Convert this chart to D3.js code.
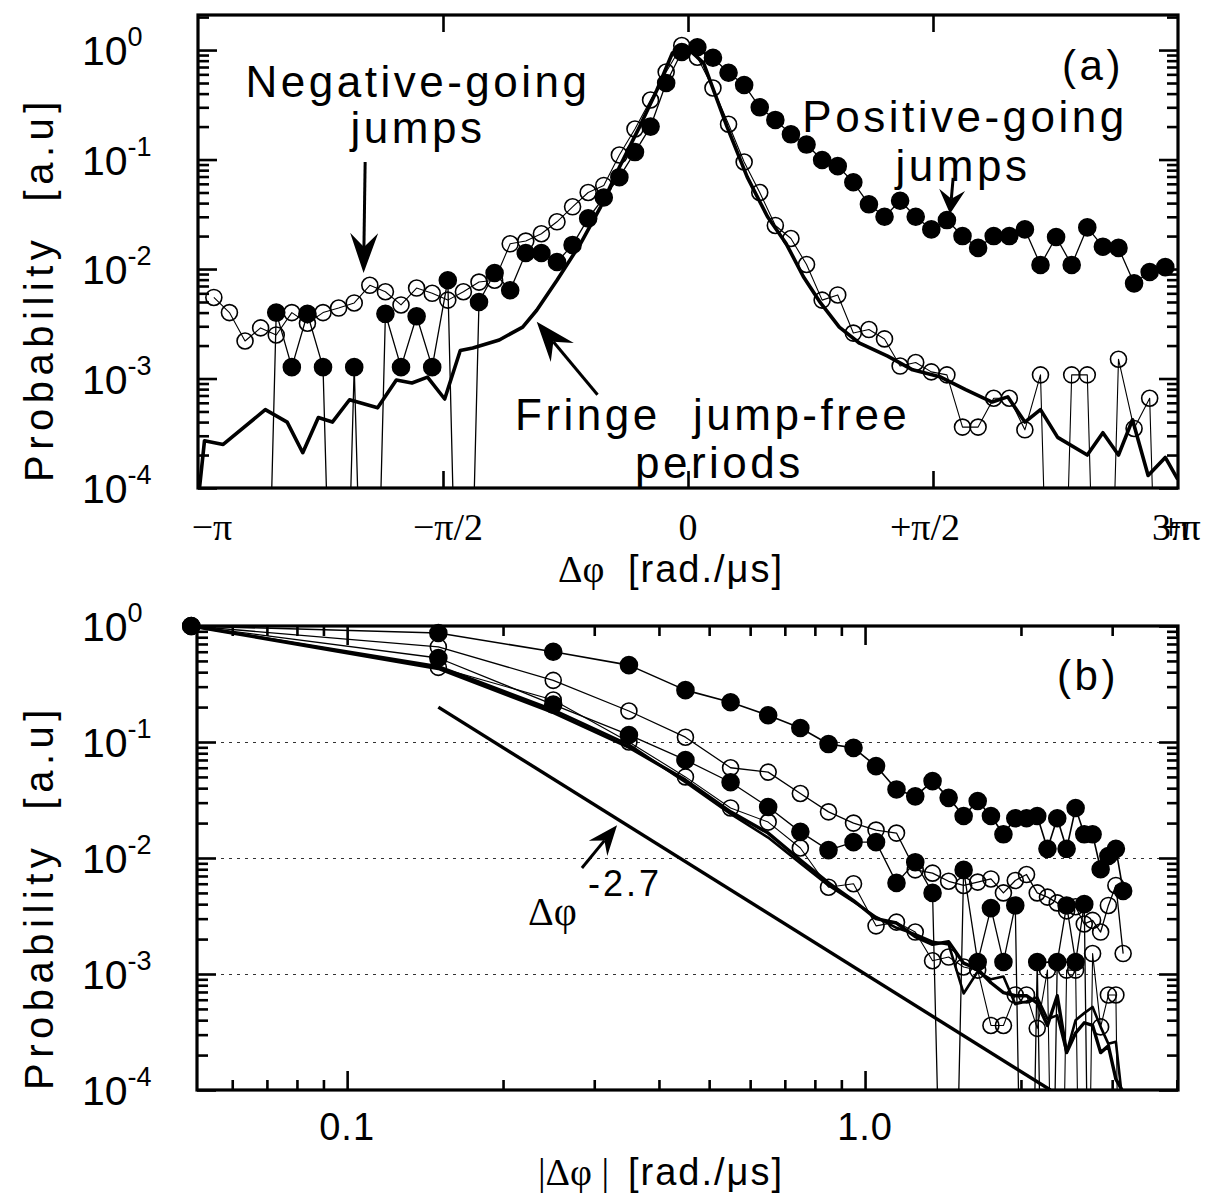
<!DOCTYPE html>
<html><head><meta charset="utf-8">
<script src="https://cdn.jsdelivr.net/npm/d3@7"></script>
<style>body{margin:0;background:#fff}</style>
</head><body>
<svg id="chart" width="1209" height="1196"></svg>
<script>
// ---------------- DATA ----------------
// Panel (a): phase-increment bins [rad/us]
const binsA = [-3.04,-2.94,-2.84,-2.74,-2.64,-2.54,-2.44,-2.34,-2.24,-2.14,-2.04,-1.94,-1.84,-1.74,-1.64,-1.54,-1.44,-1.34,-1.24,-1.14,-1.04,-0.94,-0.84,-0.74,-0.64,-0.54,-0.44,-0.34,-0.24,-0.14,-0.04,
  0.06,0.16,0.26,0.36,0.46,0.56,0.66,0.76,0.86,0.96,1.06,1.16,1.26,1.36,1.46,1.56,1.66,1.76,1.86,1.96,2.06,2.16,2.26,2.36,2.46,2.56,2.66,2.76,2.86,2.96,3.06];
// open circles
const openA = [5.5e-3,4.0e-3,2.2e-3,2.9e-3,2.5e-3,4.0e-3,3.2e-3,4.0e-3,4.4e-3,4.9e-3,7.1e-3,6.2e-3,4.7e-3,6.7e-3,6.0e-3,5.2e-3,6.2e-3,7.6e-3,7.9e-3,1.7e-2,1.8e-2,2.1e-2,2.7e-2,3.7e-2,5.0e-2,5.8e-2,0.11,0.19,0.35,0.63,1.1,
  0.86,0.45,0.21,0.095,5.0e-2,2.5e-2,1.9e-2,1.1e-2,5.2e-3,5.8e-3,2.6e-3,2.8e-3,2.3e-3,1.3e-3,1.4e-3,1.15e-3,1.08e-3,3.6e-4,3.6e-4,6.6e-4,6.6e-4,3.4e-4,1.08e-3,0,1.08e-3,1.08e-3,0,1.5e-3,3.5e-4,6.6e-4,0];
// filled circles
const filledA = [0,0,0,0,4.0e-3,1.27e-3,3.9e-3,1.27e-3,0,1.27e-3,0,3.9e-3,1.27e-3,3.7e-3,1.27e-3,7.9e-3,0,5.0e-3,9.2e-3,6.4e-3,1.4e-2,1.4e-2,1.16e-2,1.66e-2,2.9e-2,4.5e-2,6.9e-2,0.117,0.20,0.50,0.96,
  1.06,0.85,0.62,0.48,0.30,0.23,0.17,0.137,0.099,0.087,0.062,0.039,0.030,0.042,0.030,0.023,0.028,0.020,0.0156,0.020,0.020,0.023,0.0109,0.0196,0.0109,0.024,0.016,0.0156,0.0074,0.0094,0.0104];
// thick line: fringe jump-free periods
const fringeAX = [-3.14,-3.10,-2.98,-2.71,-2.57,-2.47,-2.37,-2.28,-2.17,-1.99,-1.87,-1.77,-1.67,-1.56,-1.46,-1.38,-1.21,-1.06,-0.97,-0.84,-0.69,-0.56,-0.44,-0.31,-0.20,-0.10,-0.02,
  0.10,0.25,0.38,0.51,0.63,0.74,0.85,0.97,1.10,1.28,1.44,1.62,1.78,1.95,2.05,2.16,2.26,2.37,2.56,2.66,2.76,2.85,2.95,3.06,3.14];
const fringeAP = [7.8e-5,2.7e-4,2.5e-4,5.2e-4,4.0e-4,2.1e-4,4.4e-4,4.0e-4,6.4e-4,5.4e-4,9.7e-4,9.1e-4,1.03e-3,6.5e-4,1.8e-3,1.9e-3,2.25e-3,2.95e-3,4.2e-3,7.9e-3,1.7e-2,3.7e-2,8.5e-2,0.20,0.43,0.94,1.1,
  0.76,0.20,6.9e-2,3.0e-2,1.7e-2,8.5e-3,4.9e-3,2.95e-3,2.1e-3,1.6e-3,1.2e-3,1.03e-3,7.9e-4,6.1e-4,6.8e-4,4.0e-4,5.2e-4,2.9e-4,2.0e-4,3.2e-4,2.0e-4,4.2e-4,1.3e-4,1.9e-4,1.2e-4];
const tickLabelsA = ["\u2212\u03c0", "\u2212\u03c0/2", "0", "+\u03c0/2"];
const tickValuesA = [-Math.PI, -Math.PI/2, 0, Math.PI/2];

// Panel (b): |delta phi| bins
const binsB = [0.05,0.15,0.25,0.35,0.45,0.55,0.65,0.75,0.85,0.95,1.05,1.15,1.25,1.35,1.45,1.55,1.65,1.75,1.85,1.95,2.05,2.15,2.25,2.35,2.45,2.55,2.65,2.75,2.85,2.95,3.05,3.15];
const filledTopB = [1.0,0.87,0.60,0.46,0.28,0.22,0.17,0.132,0.096,0.089,0.062,0.039,0.034,0.046,0.033,0.023,0.031,0.023,0.016,0.022,0.022,0.023,0.012,0.022,0.012,0.027,0.016,0.016,0.008,0.0104,0.012,0.0052];
const openTopB = [1.0,0.66,0.34,0.185,0.11,0.060,0.055,0.036,0.025,0.020,0.0174,0.0164,0.0079,0.0074,0.0063,0.0058,0.0062,0.0066,0.0050,0.0064,0.0072,0.0050,0.0046,0.0041,0.0035,0.0038,0.0027,0.0029,0.0023,0.0039,0.0058,0.0015];
const filledLowB = [1.0,0.53,0.21,0.115,0.070,0.045,0.0275,0.0168,0.0117,0.0137,0.0137,0.0061,0.0092,0.0050,0,0.0079,0.00127,0.0037,0.00127,0.0039,0,0.00127,0,0.00127,0.0039,0.00127,0.0040,0,0,0,0,0];
const openLowB = [1.0,0.44,0.23,0.10,0.05,0.027,0.0204,0.0122,0.0056,0.006,0.0026,0.0028,0.0023,0.0013,0.0014,0.00115,0.00108,3.6e-4,3.6e-4,6.6e-4,6.6e-4,3.4e-4,1.08e-3,0,1.08e-3,1.08e-3,0,1.5e-3,3.5e-4,6.6e-4,6.6e-4,0];
const fringePosB = [1.0,0.43,0.18,0.09,0.047,0.025,0.0164,0.0096,0.0061,0.0043,0.0030,0.00275,0.0021,0.0018,0.0019,0.00124,0.0011,8.4e-4,6.9e-4,6.5e-4,6.5e-4,5.6e-4,3.6e-4,6.5e-4,2.1e-4,3.1e-4,3.8e-4,3.6e-4,2.1e-4,2.4e-4,1.24e-4,9.6e-5];
const fringeNegB = [1.0,0.45,0.19,0.095,0.045,0.024,0.0150,0.0090,0.0058,0.0042,0.0031,0.0025,0.0022,0.0019,0.0018,6.8e-4,1.05e-3,9.0e-4,9.5e-4,5.5e-4,5.8e-4,6.3e-4,4.1e-4,4.4e-4,2.1e-4,4.0e-4,4.6e-4,5.2e-4,3.5e-4,2.5e-4,2.6e-4,7e-5];
const powerLawX = [0.15, 2.28];
const powerLawP = [0.20, 1e-4];
const tickLabelsB = ["0.1", "1.0"];
const decadeExps = [0, -1, -2, -3, -4];

// ---------------- DRAWING ----------------
const svg = d3.select('#chart');
const SANS = "'Liberation Sans', Arial, Helvetica, sans-serif";
const SERIF = "'Liberation Serif', 'Times New Roman', serif";
const ZERO_FLOOR = 1e-8;

function minorLogTicks(lo, hi) {
  const out = [];
  for (let e = Math.floor(Math.log10(lo)); e <= Math.ceil(Math.log10(hi)); e++) {
    for (let m = 2; m <= 9; m++) { const v = m * Math.pow(10, e); if (v > lo && v < hi) out.push(v); }
  }
  return out;
}

function addClip(id, x, y) {
  const r = x.range(), d = y.range();
  svg.append('clipPath').attr('id', id).append('rect')
    .attr('x', r[0]).attr('y', Math.min(d[0], d[1])).attr('width', r[1]-r[0]).attr('height', Math.abs(d[0]-d[1]));
}

function drawSeries(g, xs, ys, x, y, o) {
  const pts = xs.map((v, i) => [v, ys[i]]);
  const line = d3.line().x(d => x(d[0])).y(d => y(Math.max(d[1], ZERO_FLOOR)));
  g.append('path').attr('d', line(pts)).attr('fill', 'none').attr('stroke', '#000')
    .attr('stroke-width', o.lw).attr('stroke-linejoin', 'round').attr('clip-path', `url(#${o.clip})`);
  if (o.marker) {
    g.selectAll(null).data(pts.filter(d => d[1] > 0)).enter().append('circle')
      .attr('cx', d => x(d[0])).attr('cy', d => y(d[1])).attr('r', o.marker === 'filled' ? 8.5 : 8)
      .attr('fill', o.marker === 'filled' ? '#000' : 'none')
      .attr('stroke', '#000').attr('stroke-width', 1.6);
  }
}

function arrow(x1, y1, x2, y2, len, hw, notch) {
  const dx = x2 - x1, dy = y2 - y1, L = Math.hypot(dx, dy), ux = dx / L, uy = dy / L, nx = -uy, ny = ux;
  const bx = x2 - ux*len, by = y2 - uy*len, qx = x2 - ux*notch, qy = y2 - uy*notch;
  svg.append('line').attr('x1', x1).attr('y1', y1).attr('x2', qx).attr('y2', qy).attr('stroke', '#000').attr('stroke-width', 3);
  svg.append('path').attr('d', `M${x2},${y2}L${bx+nx*hw},${by+ny*hw}L${qx},${qy}L${bx-nx*hw},${by-ny*hw}Z`).attr('fill', '#000');
}

function text(x, y, s, o = {}) {
  return svg.append('text').attr('x', x).attr('y', y).text(s)
    .attr('font-family', o.family || SANS).attr('font-size', o.size || 44)
    .attr('letter-spacing', o.ls !== undefined ? o.ls : 3.5)
    .attr('text-anchor', o.anchor || 'start').attr('fill', '#000')
    .style('white-space', 'pre');
}

function yAxes(y, xl, xr) {
  const lo = y.domain()[0], hi = y.domain()[1];
  const minors = minorLogTicks(lo, hi);
  const majors = decadeExps.map(e => Math.pow(10, e)).filter(v => v >= lo && v <= hi);
  const gl = svg.append('g').attr('transform', `translate(${xl},0)`);
  gl.append('g').call(d3.axisLeft(y).tickValues(minors).tickSize(-11).tickFormat(''));
  gl.append('g').call(d3.axisLeft(y).tickValues(majors).tickSize(-19).tickFormat(''));
  const gr = svg.append('g').attr('transform', `translate(${xr},0)`);
  gr.append('g').call(d3.axisRight(y).tickValues(minors).tickSize(-11).tickFormat(''));
  gr.append('g').call(d3.axisRight(y).tickValues(majors).tickSize(-19).tickFormat(''));
  [gl, gr].forEach(g => { g.selectAll('.domain').remove(); g.selectAll('line').attr('stroke-width', 2.6); });
  majors.forEach(v => {
    const t = text(82, y(v) + 15, '10', { size: 41, ls: 0 });
    t.append('tspan').attr('dy', -19).attr('font-size', 27).text(String(Math.round(Math.log10(v))));
  });
}

function frame(x, y) {
  const r = x.range(), d = y.range();
  svg.append('rect').attr('x', r[0]).attr('y', d[1]).attr('width', r[1]-r[0]).attr('height', d[0]-d[1])
    .attr('fill', 'none').attr('stroke', '#000').attr('stroke-width', 3.2);
}

function yTitle(cy) {
  svg.append('text').attr('transform', `translate(53,${cy}) rotate(-90)`).attr('text-anchor', 'middle')
    .attr('font-family', SANS).attr('font-size', 40).attr('letter-spacing', 5.5).text('Probability  [a.u]')
    .style('white-space', 'pre');
}

// ===== Panel (a) =====
const xA = d3.scaleLinear().domain([-Math.PI, Math.PI]).range([198, 1178]);
const yA = d3.scaleLog().domain([1e-4, 2.09]).range([488, 15]);
addClip('clipA', xA, yA);
const gA = svg.append('g');
drawSeries(gA, fringeAX, fringeAP, xA, yA, { lw: 3.6, clip: 'clipA' });
drawSeries(gA, binsA, openA, xA, yA, { lw: 1.1, marker: 'open', clip: 'clipA' });
drawSeries(gA, binsA, filledA, xA, yA, { lw: 1.3, marker: 'filled', clip: 'clipA' });

yAxes(yA, 198, 1178);
const inner = [-Math.PI/2, 0, Math.PI/2];
svg.append('g').attr('transform', 'translate(0,488)').call(d3.axisBottom(xA).tickValues(inner).tickSize(-17).tickFormat(''))
  .call(g => { g.select('.domain').remove(); g.selectAll('line').attr('stroke-width', 2.6); });
svg.append('g').attr('transform', 'translate(0,15)').call(d3.axisTop(xA).tickValues(inner).tickSize(-17).tickFormat(''))
  .call(g => { g.select('.domain').remove(); g.selectAll('line').attr('stroke-width', 2.6); });
frame(xA, yA);

const labelShiftA = [14, 5, 0, -8];
tickValuesA.forEach((v, i) => {
  text(xA(v) + labelShiftA[i], 540, tickLabelsA[i], { family: SERIF, size: 38, ls: 0, anchor: 'middle' });
});
// right-end label: overprinted "3π" / "+π" as in the original
{
  const t = text(xA(Math.PI) - 26, 540, '3\u03c0', { family: SERIF, size: 38, ls: 0 });
  t.append('tspan').attr('dx', -30).text('+\u03c0');
}
text(558, 582, '\u0394\u03c6', { family: SERIF, size: 38, ls: 0 });
text(628, 582, '[rad./\u03bcs]', { size: 38, ls: 2 });
yTitle(289);

// annotations (a)
text(418, 97, 'Negative-going', { anchor: 'middle' });
text(418, 143, 'jumps', { anchor: 'middle' });
arrow(xA(-2.07), yA(0.095), xA(-2.08), yA(0.0092), 40, 14, 26);
text(965, 132, 'Positive-going', { anchor: 'middle' });
text(963, 181, 'jumps', { anchor: 'middle' });
arrow(xA(1.70), yA(0.068), xA(1.68), yA(0.032), 24, 13, 15);
text(1093, 80, '(a)', { anchor: 'middle', size: 42 });
text(515, 430, 'Fringe');
text(693, 430, 'jump-free');
text(635, 478, 'periods');
arrow(xA(-0.58), yA(7.1e-4), xA(-0.97), yA(3.3e-3), 40, 15, 26);

// ===== Panel (b) =====
const xB = d3.scaleLog().domain([0.0513, 4.02]).range([197, 1178]);
const yB = d3.scaleLog().domain([1e-4, 1]).range([1090, 626]);
addClip('clipB', xB, yB);
// dotted grid lines
svg.append('g').attr('transform', 'translate(197,0)')
  .call(d3.axisLeft(yB).tickValues([1e-1, 1e-2, 1e-3]).tickSize(-(1178-197)).tickFormat(''))
  .call(g => { g.select('.domain').remove(); g.selectAll('line').attr('stroke', '#333').attr('stroke-width', 1).attr('stroke-dasharray', '3,5'); });

const gB = svg.append('g');
drawSeries(gB, powerLawX, powerLawP, xB, yB, { lw: 3.4, clip: 'clipB' });
drawSeries(gB, binsB, fringeNegB, xB, yB, { lw: 2.6, clip: 'clipB' });
drawSeries(gB, binsB, fringePosB, xB, yB, { lw: 3.4, clip: 'clipB' });
drawSeries(gB, binsB, openLowB, xB, yB, { lw: 1.1, marker: 'open', clip: 'clipB' });
drawSeries(gB, binsB, openTopB, xB, yB, { lw: 1.3, marker: 'open', clip: 'clipB' });
drawSeries(gB, binsB, filledLowB, xB, yB, { lw: 1.3, marker: 'filled', clip: 'clipB' });
drawSeries(gB, binsB, filledTopB, xB, yB, { lw: 1.6, marker: 'filled', clip: 'clipB' });

yAxes(yB, 197, 1178);
const minorX = [0.06,0.07,0.08,0.09,0.2,0.3,0.4,0.5,0.6,0.7,0.8,0.9,2,3,4].filter(v => v < 4.02);
[['axisBottom', 1090], ['axisTop', 626]].forEach(([fn, ty]) => {
  const g = svg.append('g').attr('transform', `translate(0,${ty})`);
  g.append('g').call(d3[fn](xB).tickValues(minorX).tickSize(-10).tickFormat(''));
  g.append('g').call(d3[fn](xB).tickValues([0.1, 1]).tickSize(-19).tickFormat(''));
  g.selectAll('.domain').remove(); g.selectAll('line').attr('stroke-width', 2.6);
});
frame(xB, yB);
[0.1, 1].forEach((v, i) => text(xB(v), 1140, tickLabelsB[i], { size: 38, ls: 1, anchor: 'middle' }));
text(538, 1185, '|\u0394\u03c6 |', { family: SERIF, size: 38, ls: 0 });
text(628, 1185, '[rad./\u03bcs]', { size: 38, ls: 2 });
yTitle(897);
text(1088, 690, '(b)', { anchor: 'middle', size: 42 });
text(528, 925, '\u0394\u03c6', { family: SERIF, size: 40, ls: 0 });
text(588, 896, '-2.7', { size: 36, ls: 3 });
arrow(xB(0.284), yB(0.0082), xB(0.332), yB(0.0192), 30, 12, 20);
</script>
</body></html>
